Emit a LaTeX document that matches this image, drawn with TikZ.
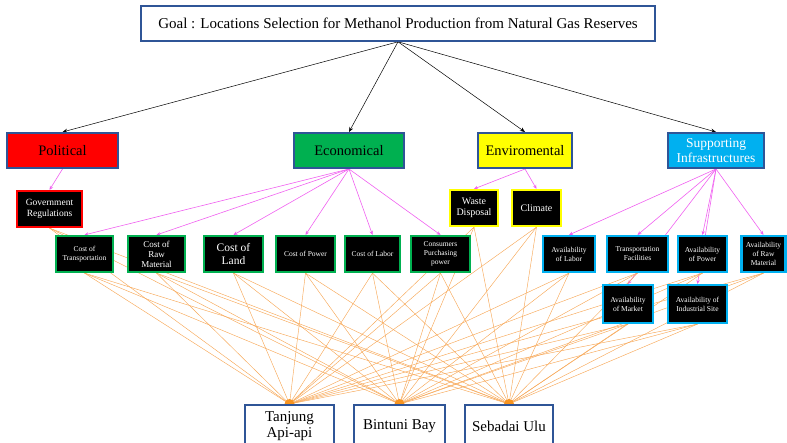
\documentclass[tikz,border=0pt]{standalone}
\usepackage{fontspec}
\setmainfont{Liberation Serif}
\usepackage{tikz}
\usetikzlibrary{positioning,arrows.meta,backgrounds}
\definecolor{frameblue}{HTML}{2F5597}
\definecolor{polred}{HTML}{FF0000}
\definecolor{ecogreen}{HTML}{00B050}
\definecolor{envyellow}{HTML}{FFFF00}
\definecolor{supcyan}{HTML}{00B0F0}
\definecolor{subpink}{HTML}{F060F0}
\definecolor{altorange}{HTML}{F7A858}
\definecolor{dotorange}{HTML}{F79420}
\tikzset{
  goalbox/.style={draw=frameblue, line width=1.6pt, fill=white, minimum height=35pt, align=center, font=\fontsize{15}{17}\selectfont},
  catbox/.style={draw=frameblue, line width=2pt, minimum height=35pt, align=center, font=\fontsize{14.5}{16}\selectfont, inner sep=1pt},
  leafbox/.style={draw, line width=2.2pt, fill=black, text=white, minimum height=36pt, align=center, inner sep=1pt},
  altbox/.style={draw=frameblue, line width=2pt, fill=white, minimum height=42pt, anchor=north, align=center, font=\fontsize{15}{16}\selectfont, inner sep=1pt},
  goallink/.style={-{Stealth[length=5pt,width=4pt]}, black, line width=0.5pt},
  sublink/.style={-{Stealth[length=4pt,width=3.5pt]}, subpink, line width=0.6pt},
  altlink/.style={altorange, line width=0.45pt}
}

\begin{document}
\begin{tikzpicture}[x=1pt,y=-1pt]
  \useasboundingbox (0,0) rectangle (787,442);

  % goal
  \node[goalbox, minimum width=514pt] (goal) at (398,23.5) {Goal : Locations Selection for Methanol Production from Natural Gas Reserves};

  % criteria
  \node[catbox, fill=polred, minimum width=111pt] (pol) at (62.5,150.5) {Political};
  \node[catbox, fill=ecogreen, minimum width=110pt] (eco) at (349,150.5) {Economical};
  \node[catbox, fill=envyellow, minimum width=94pt] (env) at (525,150.5) {Enviromental};
  \node[catbox, fill=supcyan, text=white, minimum width=96pt, font=\fontsize{13.5}{15}\selectfont] (sup) at (716,150.5) {Supporting\\Infrastructures};

  % sub-criteria
  \node[leafbox, draw=polred, minimum width=65pt, font=\fontsize{9.5}{11}\selectfont] (gov) at (49.5,209) {Government\\Regulations};
  \node[leafbox, draw=envyellow, minimum width=48pt, font=\fontsize{10}{11.5}\selectfont] (waste) at (474,208) {Waste\\Disposal};
  \node[leafbox, draw=envyellow, minimum width=49pt, font=\fontsize{10}{11.5}\selectfont] (clim) at (536.5,208) {Climate};

  \node[leafbox, draw=ecogreen, minimum width=57pt, font=\fontsize{7.5}{9}\selectfont] (ctrans) at (84.5,254) {Cost of\\Transportation};
  \node[leafbox, draw=ecogreen, minimum width=57pt, font=\fontsize{9}{10}\selectfont] (craw) at (156.5,254) {Cost of\\Raw\\Material};
  \node[leafbox, draw=ecogreen, minimum width=59pt, font=\fontsize{11.5}{13}\selectfont] (cland) at (233.5,254) {Cost of\\Land};
  \node[leafbox, draw=ecogreen, minimum width=59pt, font=\fontsize{7.5}{9}\selectfont] (cpow) at (305.5,254) {Cost of Power};
  \node[leafbox, draw=ecogreen, minimum width=55pt, font=\fontsize{7.5}{9}\selectfont] (clab) at (372.5,254) {Cost of Labor};
  \node[leafbox, draw=ecogreen, minimum width=59pt, font=\fontsize{7.5}{9}\selectfont] (ccons) at (440.5,254) {Consumers\\Purchasing\\power};

  \node[leafbox, draw=supcyan, minimum width=52pt, font=\fontsize{7.5}{9}\selectfont] (alab) at (569,254) {Availability\\of Labor};
  \node[leafbox, draw=supcyan, minimum width=61pt, font=\fontsize{7.5}{9}\selectfont] (tfac) at (637.5,254) {Transportation\\Facilities};
  \node[leafbox, draw=supcyan, minimum width=49pt, font=\fontsize{7.5}{9}\selectfont] (apow) at (702.5,254) {Availability\\of Power};
  \node[leafbox, draw=supcyan, minimum width=44pt, font=\fontsize{7.5}{9}\selectfont] (araw) at (763.5,254) {Availability\\of Raw\\Material};
  \node[leafbox, draw=supcyan, minimum width=50pt, minimum height=38pt, font=\fontsize{7.5}{9}\selectfont] (amkt) at (628,304) {Availability\\of Market};
  \node[leafbox, draw=supcyan, minimum width=59pt, minimum height=38pt, font=\fontsize{7.5}{9}\selectfont] (aind) at (697.5,304) {Availability of\\Industrial Site};

  % alternatives
  \node[altbox, minimum width=89pt] (tanj) at (289.5,404) {Tanjung\\Api-api};
  \node[altbox, minimum width=91pt] (bint) at (399.5,404) {Bintuni Bay};
  \node[altbox, minimum width=88pt] (seb) at (509,404) {Sebadai Ulu};

  \begin{scope}[on background layer]
    \draw[goallink] (goal.south) -- (pol.north);
    \draw[goallink] (goal.south) -- (eco.north);
    \draw[goallink] (goal.south) -- (env.north);
    \draw[goallink] (goal.south) -- (sup.north);

    \draw[sublink] (pol.south) -- (gov.north);
    \foreach \c in {ctrans,craw,cland,cpow,clab,ccons}
      \draw[sublink] (eco.south) -- (\c.north);
    \draw[sublink] (env.south) -- (waste.north);
    \draw[sublink] (env.south) -- (clim.north);
    \foreach \c in {alab,tfac,apow,araw,amkt,aind}
      \draw[sublink] (sup.south) -- (\c.north);

    \foreach \c in {gov,ctrans,craw,cland,cpow,clab,ccons,waste,clim,alab,tfac,apow,araw,amkt,aind}
      \foreach \a in {tanj,bint,seb}
        \draw[altlink] (\c.south) -- (\a.north);

    \foreach \a in {tanj,bint,seb}
      \fill[dotorange] (\a.north) circle (5pt);
  \end{scope}
\end{tikzpicture}
\end{document}
